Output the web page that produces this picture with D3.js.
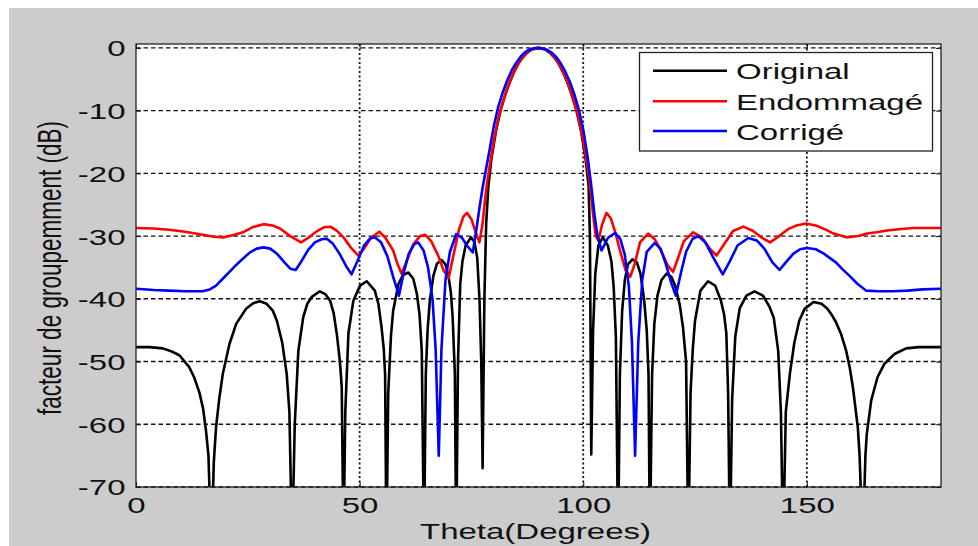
<!DOCTYPE html>
<html><head><meta charset="utf-8">
<script src="https://cdn.jsdelivr.net/npm/d3@7/dist/d3.min.js"></script>
<style>
body{margin:0;background:#fff}
svg{display:block}
text{font-family:Arial,"Liberation Sans",sans-serif;fill:#111}
</style>
</head><body>
<svg id="chart" width="978" height="546"></svg>
<script>
// ---------- data ----------
const xTicks = [0, 50, 100, 150];
const yTicks = [0, -10, -20, -30, -40, -50, -60, -70];
const xLabel = "Theta(Degrees)";
const yLabel = "facteur de groupemment (dB)";
const seriesNames = ["Original", "Endommagé", "Corrigé"];

const origTheta = [0,3,6,8,9.7,11.9,13,14.2,15,15.65,16.2,16.85,17.4,17.9,18.6,19.4,20.9,22.4,24.6,26.2,27.7,29.2,30.6,31.5,32.7,33.7,34.3,34.9,35.5,36.3,37.4,38.3,39.3,41.1,42.4,43.4,44.2,44.9,45.6,46.0,46.4,46.8,47.5,48.6,50.1,51.6,53.4,54.2,54.9,55.4,55.7,56.0,56.4,57.0,57.5,58.7,59.7,60.9,62.0,62.8,63.4,63.9,64.4,64.8,65.2,65.7,66.5,67.3,68.3,69.2,69.9,70.4,70.8,71.3,71.6,72.0,72.5,73.0,73.7,74.9,75.7,76.3,76.8,77.2,77.5,77.9,78.3,78.8,79.5,80.5,81.5,82.5,83.5,84.5,85.5,86.5,87.5,88.5,90,91.5,92.5,93.5,94.5,95.5,96.5,97.5,98.5,99.5,100.5,101.2,101.5,101.8,102.2,102.7,103.4,104.4,105.5,106.3,106.8,107.3,107.8,108.2,108.7,109.3,110.0,111.0,112.0,112.8,113.6,114.2,114.6,114.9,115.4,115.9,116.6,117.5,118.6,119.7,120.6,121.6,122.3,123.0,123.5,124.0,124.5,125.0,126.2,127.9,129.5,130.8,131.5,132.0,132.4,132.8,133.3,134.0,135.0,136.5,138.3,140.2,141.6,142.6,143.6,144.2,144.7,145.3,146.2,147.2,148.3,149.5,151.5,153.3,154.6,155.6,156.5,157.7,158.8,159.6,160.3,161.4,161.8,162.5,163.1,163.4,164.4,165.8,167.3,169.6,172.2,175,180];
const origDb = [-47.7,-47.7,-47.9,-48.4,-49.0,-50.9,-52.5,-55,-57.5,-61,-65,-80,-66,-60.5,-56,-52,-47.2,-44,-41.6,-40.7,-40.4,-40.8,-41.9,-43.5,-47,-52,-58,-80,-60,-48.3,-42.9,-40.8,-39.7,-38.8,-39.3,-40.3,-42.3,-45.6,-50,-54,-80,-58,-45.5,-40.3,-37.9,-37.2,-38.7,-40.8,-44.5,-48,-52,-80,-55,-46,-41.9,-37.6,-36.2,-35.8,-36.8,-39.2,-42.5,-48.3,-80,-52,-45,-40.3,-36.3,-34.4,-33.8,-34.5,-36.5,-39,-42.9,-52,-80,-50,-37.6,-34,-31.5,-30.2,-31,-33.5,-40,-50,-67,-40,-28,-22,-17.5,-13.2,-10,-7.6,-5.6,-3.9,-2.5,-1.5,-0.75,-0.25,0,-0.25,-0.75,-1.5,-2.5,-3.9,-5.6,-7.6,-10,-13.2,-17.5,-22,-30,-64.8,-45,-36,-31.5,-30.2,-31.5,-34,-38,-46,-80,-52,-42,-37,-34.5,-33.7,-34.2,-36,-40,-45,-52,-80,-52,-44,-39.5,-37,-36.0,-36.5,-38,-41,-44.5,-50,-80,-55,-48,-43.5,-38.7,-37.2,-37.9,-40.3,-42.5,-45.5,-55,-80,-56,-46,-41.5,-39.5,-38.8,-39.5,-41.2,-43,-48.3,-58,-80,-58,-52,-47,-43.5,-41.6,-40.5,-40.8,-41.6,-42.6,-43.7,-45.7,-48.3,-51,-54.1,-60.5,-65,-80,-65,-61.6,-56.2,-52.5,-50.4,-48.8,-47.9,-47.7,-47.7];

const damTheta = [0,4,7.4,11,14.9,17.5,19.7,22,23.9,26,28.5,30.5,32.2,34.5,36.9,38.5,40.5,42,43.5,45,46.4,48,49.7,51,52.5,54.4,55.8,57.5,58.5,59.4,60.5,62,63.5,64.7,66,67.5,68.8,69.9,71,72.2,73.2,74,75,76,76.8,77.5,78,78.5,79,80,81,82,83,84,85,86,87,88,89,90,91,92,93,94,95,96,97,98,99,100,101,101.6,102.2,102.8,103.4,104.2,105.2,106.2,107.2,108.3,109.5,110.5,111.5,112.7,114.5,116,117.5,119,120.1,121.2,122.5,124.6,126.5,128.3,129.8,131.5,133.5,135.8,138,140,141.8,143.8,145.8,147.7,149.8,152,154,156,158.9,161.5,163.5,165.5,168,170.5,173.7,180];
const damDb = [-28.7,-28.8,-29.0,-29.3,-29.8,-30.1,-30.2,-29.8,-29.4,-28.6,-28.1,-28.3,-28.8,-30.0,-31.0,-30.3,-29.2,-28.6,-28.5,-29.2,-30.2,-31.8,-33.1,-32,-30.3,-29.3,-30.3,-32.3,-34.5,-36.0,-34,-31.3,-30.0,-29.8,-30.8,-33,-35.5,-36.7,-33,-29,-26.9,-26.3,-27.3,-29.5,-31.0,-28,-24.5,-21.5,-19.2,-14.8,-11.3,-8.7,-6.5,-4.6,-3.1,-1.9,-1.0,-0.4,-0.1,0,-0.1,-0.4,-1.0,-1.9,-3.1,-4.6,-6.5,-8.7,-11.3,-14.8,-19.2,-22.5,-26.5,-30,-30.7,-28.2,-26.3,-27.2,-29.5,-32.5,-35.5,-36.5,-34.5,-31,-29.6,-30.5,-32.5,-34.8,-35.7,-33.5,-30.8,-29.4,-30.2,-32,-33.1,-31.3,-29.2,-28.5,-29.2,-30.3,-31,-30,-28.9,-28.3,-28.0,-28.3,-28.9,-29.6,-30.2,-30.0,-29.6,-29.4,-29.1,-28.9,-28.7,-28.7];

const corTheta = [0,4,7.4,11,14.9,16.5,17.9,19.4,20.9,22.4,23.9,25.5,27,28.5,30,31.5,33.2,34.5,35.7,37,38.5,40,41.5,42.6,44,45.5,47,48.2,49.5,51,52.3,53.4,54.8,56.2,57.5,58.8,59.8,61,62.2,63.1,64.3,65.3,66.3,67,67.7,68.3,69.2,70.2,71.6,72.8,74,75.3,76,76.8,77.5,78.1,79,80,81,82,83,84,85,86,87,88,89,90,91,92,93,94,95,96,97,98,99,100,101,101.8,102.5,103.2,104.1,105.5,107.1,108.3,109.3,110.2,110.9,111.6,112.3,113.2,114.2,116,117.3,118.5,119.7,120.7,121.8,123,124.4,125.7,127.3,129,131.2,132.8,134.5,136.9,138.8,140.5,142.3,143.9,145.3,147,148.5,150,152,153.8,156.5,158,159.5,161.3,163.3,166,169.2,172.5,175.9,180];
const corDb = [-38.4,-38.6,-38.7,-38.8,-38.8,-38.5,-37.9,-36.8,-35.7,-34.6,-33.6,-32.6,-32.0,-31.8,-32.0,-32.8,-34.2,-35.2,-35.4,-34,-32.2,-31,-30.5,-30.4,-31.2,-32.8,-34.8,-36.1,-34,-31.5,-30.4,-30.2,-31.0,-33.2,-36.5,-39.5,-36,-32.8,-31.3,-31.0,-32.3,-35.0,-40,-48,-65,-48,-37,-32.5,-29.7,-30.2,-31.5,-32.6,-29.5,-25.5,-22.3,-20,-16.5,-12.5,-9.4,-7.1,-5.2,-3.6,-2.4,-1.4,-0.7,-0.25,-0.05,0,-0.1,-0.35,-0.8,-1.5,-2.5,-3.8,-5.4,-7.4,-9.8,-13,-17.5,-22,-26.5,-30.0,-32.3,-30.3,-29.5,-30.5,-33,-38,-47,-65,-47,-37,-32.5,-31.1,-32,-34.5,-37.5,-39.5,-36,-32.5,-30.5,-30.0,-31,-33.3,-36.1,-34,-31.5,-30.3,-30.7,-32,-34.2,-35.4,-34.2,-32.8,-32.1,-31.9,-32.1,-32.8,-34.2,-35.3,-36.3,-37.6,-38.7,-38.8,-38.8,-38.7,-38.5,-38.4];

// ---------- styles / layout ----------
const colors = ["#000000", "#ff0000", "#0000ff"];
const W = 978, H = 546;
const plot = {left: 136, right: 941, top: 44, bottom: 487};
const sx = 1.5;          // horizontal stretch of glyphs in the reference
const fs = 22;           // font size

const svg = d3.select("#chart");
svg.append("rect").attr("x", 0).attr("y", 0).attr("width", W).attr("height", H).attr("fill", "#ffffff");
svg.append("rect").attr("x", 9).attr("y", 8).attr("width", W - 9).attr("height", H - 8).attr("fill", "#cccccc");

const x = d3.scaleLinear().domain([0, 180]).range([plot.left, plot.right]);
const y = d3.scaleLinear().domain([-70, 0.62]).range([plot.bottom, plot.top]);

// plot background
svg.append("rect").attr("x", plot.left).attr("y", plot.top)
  .attr("width", plot.right - plot.left).attr("height", plot.bottom - plot.top)
  .attr("fill", "#ffffff");

// grid
const grid = svg.append("g");
grid.selectAll("line.h").data(yTicks).join("line").attr("class", "h")
  .attr("x1", plot.left).attr("x2", plot.right)
  .attr("y1", d => y(d)).attr("y2", d => y(d))
  .attr("stroke", "#111").attr("stroke-width", 1.4).attr("stroke-dasharray", "4.5,3");
grid.selectAll("line.v").data(xTicks.filter(d => d > 0)).join("line").attr("class", "v")
  .attr("x1", d => x(d)).attr("x2", d => x(d))
  .attr("y1", plot.top).attr("y2", plot.bottom)
  .attr("stroke", "#111").attr("stroke-width", 1.8).attr("stroke-dasharray", "2,2.5");

// clip
svg.append("clipPath").attr("id", "clip").append("rect")
  .attr("x", plot.left).attr("y", plot.top)
  .attr("width", plot.right - plot.left).attr("height", plot.bottom - plot.top);

const series = [
  {theta: origTheta, db: origDb},
  {theta: damTheta, db: damDb},
  {theta: corTheta, db: corDb}
];
const line = d3.line().x(d => x(d[0])).y(d => y(d[1]));
const lines = svg.append("g").attr("clip-path", "url(#clip)");
series.forEach((s, i) => {
  const pts = s.theta.map((t, k) => [t, s.db[k]]);
  lines.append("path").datum(pts).attr("d", line)
    .attr("fill", "none").attr("stroke", colors[i])
    .attr("stroke-width", 2.6).attr("stroke-linejoin", "round");
});

// axes
const fmt = d => String(d);   // plain hyphen-minus as in the reference
const axB = svg.append("g").attr("transform", `translate(0,${plot.bottom})`)
  .call(d3.axisBottom(x).tickValues(xTicks).tickFormat(fmt).tickSizeInner(-5).tickSizeOuter(0).tickPadding(10));
const axL = svg.append("g").attr("transform", `translate(${plot.left},0)`)
  .call(d3.axisLeft(y).tickValues(yTicks).tickFormat(fmt).tickSizeInner(-5).tickSizeOuter(0).tickPadding(10));
const axT = svg.append("g").attr("transform", `translate(0,${plot.top})`)
  .call(d3.axisTop(x).tickValues(xTicks).tickSizeInner(-5).tickSizeOuter(0).tickFormat(""));
const axR = svg.append("g").attr("transform", `translate(${plot.right},0)`)
  .call(d3.axisRight(y).tickValues(yTicks).tickSizeInner(-5).tickSizeOuter(0).tickFormat(""));
[axB, axL, axT, axR].forEach(a => {
  a.select(".domain").remove();
  a.selectAll(".tick line").attr("stroke", "#111");
});
axB.selectAll("text").attr("font-size", fs).attr("fill", "#111")
  .attr("transform", `scale(${sx},1)`);
axL.selectAll("text").attr("font-size", fs).attr("fill", "#111")
  .attr("x", -10.5 / sx).attr("dy", "0.36em")
  .attr("transform", `scale(${sx},1)`);

// frame
svg.append("rect").attr("x", plot.left).attr("y", plot.top)
  .attr("width", plot.right - plot.left).attr("height", plot.bottom - plot.top)
  .attr("fill", "none").attr("stroke", "#222").attr("stroke-width", 1.3);

// axis labels
svg.append("text").attr("text-anchor", "middle").attr("font-size", fs)
  .attr("transform", `translate(${(plot.left + plot.right) / 2 - 3},538.5) scale(${sx},1)`)
  .text(xLabel);
svg.append("text").attr("text-anchor", "middle").attr("font-size", 22.5)
  .attr("dy", "0.35em")
  .attr("transform", `translate(49,268) scale(${sx},1) rotate(-90)`)
  .text(yLabel);

// legend
const leg = svg.append("g");
leg.append("rect").attr("x", 639.5).attr("y", 52.5).attr("width", 293).attr("height", 98.5)
  .attr("fill", "#ffffff").attr("stroke", "#222").attr("stroke-width", 1.3);
const rowY = [70.7, 101.2, 131];
seriesNames.forEach((n, i) => {
  leg.append("line").attr("x1", 653).attr("x2", 727).attr("y1", rowY[i]).attr("y2", rowY[i])
    .attr("stroke", colors[i]).attr("stroke-width", 2.4);
  leg.append("text").attr("font-size", 22)
    .attr("transform", `translate(736,${rowY[i] + 8.5}) scale(${sx},1)`)
    .text(n);
});
</script>
</body></html>
